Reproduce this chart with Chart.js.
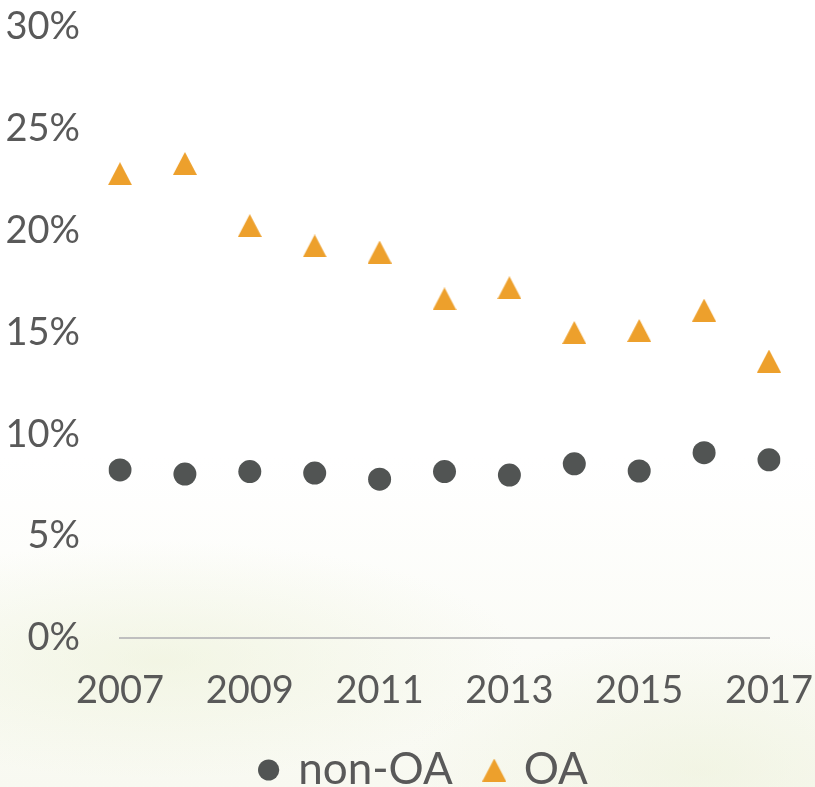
<!DOCTYPE html>
<html>
<head>
<meta charset="utf-8">
<script src="https://cdn.jsdelivr.net/npm/chart.js@4.4.1/dist/chart.umd.min.js"></script>
<style>
  html, body { margin: 0; padding: 0; }
  body {
    width: 815px; height: 787px; overflow: hidden;
    background:
      radial-gradient(ellipse 520px 170px at 160px 660px, rgba(232, 238, 206, 0.45), rgba(255,255,255,0) 70%),
      radial-gradient(ellipse 420px 200px at 700px 770px, rgba(234, 239, 212, 0.45), rgba(255,255,255,0) 70%),
      linear-gradient(to bottom, #ffffff 0%, #ffffff 58%, #f8f9f1 100%);
  }
  #wrap { position: relative; width: 815px; height: 787px; }
</style>
</head>
<body>
<div id="wrap"><canvas id="chart"></canvas></div>
<script>
// years on the category axis, only every second one gets a label
const years = ["2007", "2008", "2009", "2010", "2011", "2012", "2013", "2014", "2015", "2016", "2017"];
const nonOA = [8.25, 8.05, 8.17, 8.1, 7.8, 8.17, 8.0, 8.55, 8.2, 9.1, 8.75];
const OA = [22.8, 23.3, 20.25, 19.25, 18.95, 16.65, 17.2, 15.0, 15.1, 16.1, 13.6];
const yTicks = [0, 5, 10, 15, 20, 25, 30];

const textColor = "#595959";
const fontFamily = "Lato, 'Open Sans', sans-serif";

// Excel style triangle marker (about as wide as tall, centred on its box)
const makeTriangle = (w, h, color) => {
  const c = document.createElement("canvas");
  c.width = w;
  c.height = h;
  const t = c.getContext("2d");
  t.fillStyle = color;
  t.beginPath();
  t.moveTo(w / 2, 0);
  t.lineTo(w, h);
  t.lineTo(0, h);
  t.closePath();
  t.fill();
  return c;
};
const triangle = makeTriangle(24, 23, "#EDA02C");

// drop the extra room chart.js keeps for the outer tick labels
const noLabelPadding = (scale) => {
  scale.paddingTop = 0;
  scale.paddingBottom = 0;
  scale.paddingLeft = 0;
  scale.paddingRight = 0;
};

// legend sits a bit right of the canvas centre in the original
const shiftLegend = {
  id: "shiftLegend",
  afterLayout(chart) {
    chart.legend.left += 40;
    chart.legend.right += 40;
  },
};

const ctx = document.getElementById("chart").getContext("2d");

let myChart = new Chart(ctx, {
  type: "line",
  plugins: [shiftLegend],
  data: {
    labels: years,
    datasets: [
      {
        label: "non-OA",
        data: nonOA,
        showLine: false,
        pointStyle: "circle",
        pointRadius: 11.5,
        pointHoverRadius: 11.5,
        backgroundColor: "#515453",
        borderColor: "#515453",
        pointBorderWidth: 0,
      },
      {
        label: "OA",
        data: OA,
        showLine: false,
        pointStyle: triangle,
        pointRadius: 12,
        backgroundColor: "#EDA02C",
        borderColor: "#EDA02C",
      },
    ],
  },
  options: {
    responsive: true,
    maintainAspectRatio: false,
    animation: false,
    layout: { padding: { top: 27, right: 46, bottom: 0, left: 0 } },
    scales: {
      x: {
        offset: false,
        grid: { display: false, drawTicks: false },
        border: { display: true, color: "#BFBFBF", width: 2 },
        afterFit: (scale) => {
          scale.height = 76;
          noLabelPadding(scale);
        },
        ticks: {
          autoSkip: false,
          maxRotation: 0,
          padding: 30,
          color: textColor,
          font: { family: fontFamily, size: 38 },
          callback: (v, i) => (i % 2 === 0 ? years[i] : ""),
        },
      },
      y: {
        min: 0,
        max: 30,
        grid: { display: false, drawTicks: false },
        border: { display: false },
        afterFit: (scale) => {
          scale.width = 120;
          noLabelPadding(scale);
        },
        afterBuildTicks: (scale) => { scale.ticks = yTicks.map((v) => ({ value: v })); },
        ticks: {
          padding: 40,
          color: textColor,
          font: { family: fontFamily, size: 38 },
          callback: (v) => v + "%",
        },
      },
    },
    plugins: {
      tooltip: { enabled: false },
      legend: {
        position: "bottom",
        maxHeight: 73,
        labels: {
          usePointStyle: true,
          boxWidth: 15,
          boxHeight: 15,
          padding: 34,
          color: textColor,
          font: { family: fontFamily, size: 44 },
        },
      },
    },
  },
});
</script>
</body>
</html>
